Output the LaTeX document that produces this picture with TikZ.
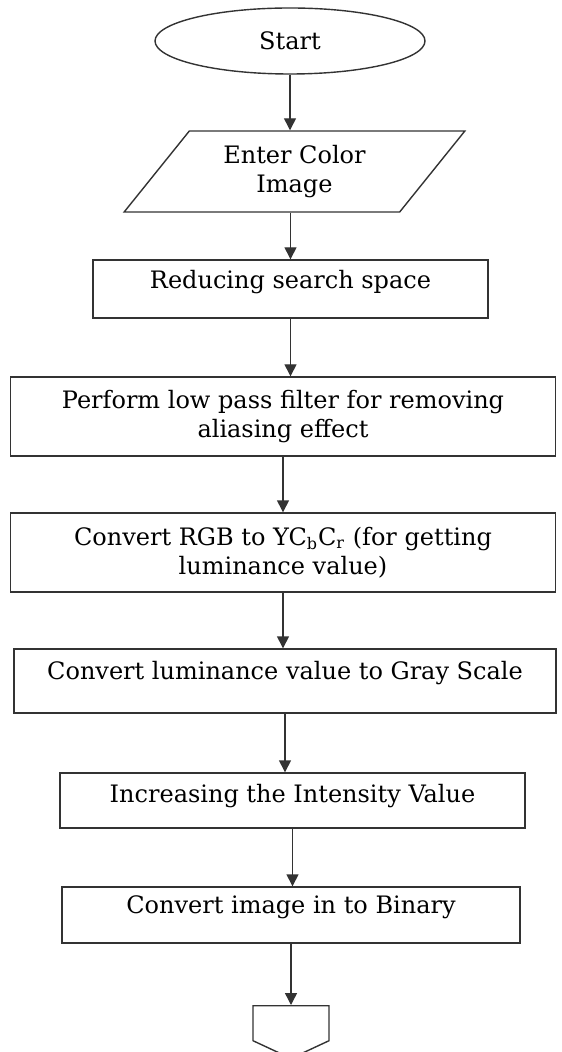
\documentclass[tikz,border=0pt]{standalone}
\usepackage{fontspec}
\setmainfont{DejaVu Serif}
\usetikzlibrary{shapes.geometric,shapes.symbols,arrows.meta}

\begin{document}
\begin{tikzpicture}[x=0.5pt,y=-0.5pt,
		font=\fontsize{12}{14.5}\selectfont,
		>={Triangle[width=6pt,length=6pt]},
		flowline/.style={draw=black!80, line width=0.7pt},
		flowbox/.style={rectangle, flowline, inner sep=0pt, align=center}]
		\useasboundingbox (0,0) rectangle (561,1052);
		\node[ellipse, flowline, minimum width=135pt, minimum height=33pt, inner sep=0pt] (start) at (290,41) {Start};
		\node[trapezium, trapezium left angle=50, trapezium right angle=130, trapezium stretches=true, flowline, minimum width=170.5pt, minimum height=40.5pt, inner sep=0pt, align=center] (enter) at (294.5,171.5) {Enter Color\\Image};
		\node[flowbox, minimum width=197.5pt, text height=14.5pt, text depth=14.5pt] (reduce) at (290.5,289) {Reducing search space};
		\node[flowbox, minimum width=272.5pt, minimum height=39.5pt] (lowpass) at (283,416.5) {Perform low pass filter for removing\\aliasing effect};
		\node[flowbox, minimum width=272.5pt, minimum height=39.5pt] (rgb) at (283,552.5) {Convert RGB to YC\textsubscript{b}C\textsubscript{r} (for getting\\luminance value)};
		\node[flowbox, minimum width=271pt, text height=15pt, text depth=17pt] (gray) at (285,681) {Convert luminance value to Gray Scale};
		\node[flowbox, minimum width=232.5pt, text height=14.5pt, text depth=13pt] (intensity) at (292.5,800.5) {Increasing the Intensity Value};
		\node[flowbox, minimum width=229pt, text height=13pt, text depth=15pt] (binary) at (291,915) {Convert image in to Binary};
		\node[signal, signal to=south, signal pointer angle=130, flowline, minimum width=38pt, minimum height=17.5pt, inner sep=0pt, anchor=north] (endpage) at (291,1005) {};
		\draw[->, flowline] (start.south) -- (start.south |- enter.north);
		\draw[->, flowline] (enter.south -| reduce.north) -- (reduce.north);
		\draw[->, flowline] (reduce.south) -- (reduce.south |- lowpass.north);
		\draw[->, flowline] (lowpass.south) -- (lowpass.south |- rgb.north);
		\draw[->, flowline] (rgb.south) -- (rgb.south |- gray.north);
		\draw[->, flowline] (gray.south) -- (gray.south |- intensity.north);
		\draw[->, flowline] (intensity.south) -- (intensity.south |- binary.north);
		\draw[->, flowline] (binary.south) -- (endpage.north);
\end{tikzpicture}
\end{document}
